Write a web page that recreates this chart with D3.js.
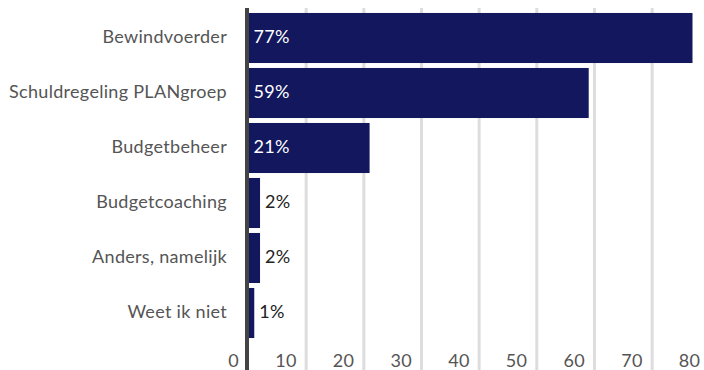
<!DOCTYPE html>
<html>
<head>
<meta charset="utf-8">
<script src="https://cdn.jsdelivr.net/npm/d3@7"></script>
<style>
  html, body { margin: 0; padding: 0; background: #fff; }
  svg { display: block; font-family: Lato, "Open Sans", sans-serif; }
  text { letter-spacing: 0.3px; }
</style>
</head>
<body>
<svg id="chart" width="704" height="370"></svg>
<script>
// Answer categories and the share of respondents (%) for each
const categories = [
  "Bewindvoerder",
  "Schuldregeling PLANgroep",
  "Budgetbeheer",
  "Budgetcoaching",
  "Anders, namelijk",
  "Weet ik niet"
];
const percentages = [77, 59, 21, 2, 2, 1];
const tickValues = [0, 10, 20, 30, 40, 50, 60, 70, 80];

const svg = d3.select("#chart");
const width = 704, height = 370;

const x = d3.scaleLinear().domain([0, 77]).range([248.5, 692.5]);
const y = d3.scaleBand()
  .domain(categories)
  .range([10.5, 340.5])
  .paddingInner(0.09)
  .paddingOuter(0.045);

const barColor = "#12175e";
const labelColor = "#555555";
const fontStack = "Lato, 'Open Sans', sans-serif";

// Vertical gridlines
svg.append("g")
  .selectAll("line")
  .data(tickValues.filter(d => d > 0))
  .join("line")
  .attr("x1", d => x(d)).attr("x2", d => x(d))
  .attr("y1", 8).attr("y2", height)
  .attr("stroke", "#dddddd")
  .attr("stroke-width", 3);

// Bottom axis: labels sit just left of each gridline
const xAxis = d3.axisBottom(x).tickValues(tickValues).tickSize(0).tickPadding(0);
const gx = svg.append("g").attr("transform", `translate(0,${height - 20})`).call(xAxis);
gx.select(".domain").remove();
gx.selectAll(".tick text")
  .attr("text-anchor", "end")
  .attr("x", -10)
  .attr("y", 0)
  .attr("dy", "0.96em")
  .attr("fill", labelColor)
  .style("font-size", "18px")
  .style("font-family", fontStack);

// Bars
const rows = categories.map((c, i) => ({ cat: c, value: percentages[i] }));
svg.append("g")
  .selectAll("rect")
  .data(rows)
  .join("rect")
  .attr("x", x(0))
  .attr("y", d => y(d.cat))
  .attr("width", d => x(d.value) - x(0))
  .attr("height", y.bandwidth())
  .attr("fill", barColor);

// Vertical baseline at zero
svg.append("line")
  .attr("x1", x(0) - 1.5).attr("x2", x(0) - 1.5)
  .attr("y1", 8).attr("y2", height)
  .attr("stroke", "#444444")
  .attr("stroke-width", 4);

// Category labels
const yAxis = d3.axisLeft(y).tickSize(0).tickPadding(0);
const gy = svg.append("g").attr("transform", `translate(227,0)`).call(yAxis);
gy.select(".domain").remove();
gy.selectAll(".tick text")
  .attr("dy", "0.25em")
  .attr("fill", labelColor)
  .style("font-size", "18px")
  .style("font-family", fontStack);

// Value labels: inside the bar when it is wide enough, otherwise after it
const inside = d => d.value >= 10;
svg.append("g")
  .selectAll("text")
  .data(rows)
  .join("text")
  .attr("x", d => inside(d) ? x(0) + 5 : x(d.value) + 5)
  .attr("y", d => y(d.cat) + y.bandwidth() / 2)
  .attr("dy", "0.25em")
  .attr("fill", d => inside(d) ? "#ffffff" : "#222222")
  .style("font-size", "18px")
  .text(d => d.value + "%");
</script>
</body>
</html>
